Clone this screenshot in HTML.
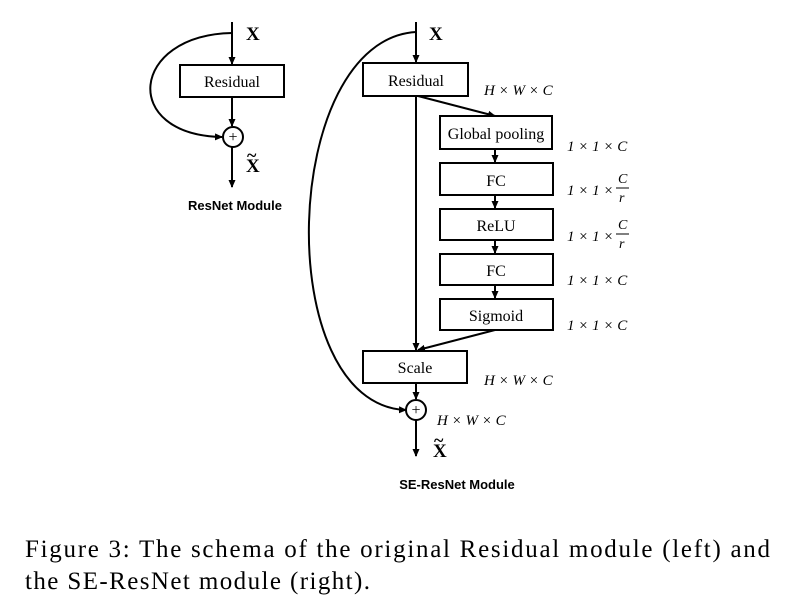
<!DOCTYPE html>
<html><head><style>
body{margin:0;width:790px;height:611px;background:#fff;overflow:hidden;font-family:"Liberation Serif",serif}
</style></head><body>
<svg width="790" height="611" xmlns="http://www.w3.org/2000/svg" style="position:absolute;left:0;top:0">
<defs><marker id="a" markerWidth="8" markerHeight="8" refX="7" refY="4" orient="auto" markerUnits="userSpaceOnUse"><path d="M0,0.5 L8,4 L0,7.5 z" fill="#000"/></marker></defs>
<g stroke="#000" stroke-width="2" fill="none">
<line x1="232" y1="22" x2="232" y2="64" marker-end="url(#a)"/>
<rect x="180" y="65" width="104" height="32" fill="#fff"/>
<line x1="232" y1="97" x2="232" y2="126" marker-end="url(#a)"/>
<circle cx="233" cy="137" r="10"/>
<path d="M232,33 C130,35 120,135 222,137" marker-end="url(#a)"/>
<line x1="232" y1="147" x2="232" y2="187" marker-end="url(#a)"/>
<line x1="416" y1="22" x2="416" y2="62" marker-end="url(#a)"/>
<rect x="363" y="63" width="105" height="33" fill="#fff"/>
<line x1="416" y1="96" x2="416" y2="350" marker-end="url(#a)"/>
<line x1="418" y1="96" x2="495" y2="116" marker-end="url(#a)"/>
<rect x="440" y="116" width="112" height="33" fill="#fff"/>
<line x1="495" y1="149" x2="495" y2="162" marker-end="url(#a)"/>
<rect x="440" y="163" width="113" height="32" fill="#fff"/>
<line x1="495" y1="195" x2="495" y2="208" marker-end="url(#a)"/>
<rect x="440" y="209" width="113" height="31" fill="#fff"/>
<line x1="495" y1="240" x2="495" y2="253" marker-end="url(#a)"/>
<rect x="440" y="254" width="113" height="31" fill="#fff"/>
<line x1="495" y1="285" x2="495" y2="298" marker-end="url(#a)"/>
<rect x="440" y="299" width="113" height="31" fill="#fff"/>
<line x1="495" y1="330" x2="418" y2="350" marker-end="url(#a)"/>
<rect x="363" y="351" width="104" height="32" fill="#fff"/>
<line x1="416" y1="383" x2="416" y2="399" marker-end="url(#a)"/>
<circle cx="416" cy="410" r="10"/>
<path d="M416,32 C280,40 270,405 406,410" marker-end="url(#a)"/>
<line x1="416" y1="420" x2="416" y2="456" marker-end="url(#a)"/>
</g>
<g font-family="Liberation Serif,serif" font-size="16" text-anchor="middle">
<text x="232" y="87">Residual</text>
<text x="416" y="86">Residual</text>
<text x="496" y="139">Global pooling</text>
<text x="496" y="186">FC</text>
<text x="496" y="231">ReLU</text>
<text x="496" y="276">FC</text>
<text x="496" y="321">Sigmoid</text>
<text x="415" y="373">Scale</text>
<text x="233" y="142" font-size="16">+</text>
<text x="416" y="415" font-size="16">+</text>
</g>
<g font-family="Liberation Serif,serif" font-size="19" font-weight="bold">
<text x="246" y="40">X</text><text x="429" y="40">X</text>
<text x="246" y="172">X</text><text x="247" y="161" font-size="18">~</text>
<text x="433" y="457">X</text><text x="434" y="446" font-size="18">~</text>
</g>
<g font-family="Liberation Sans,sans-serif" font-size="13" font-weight="bold" text-anchor="middle">
<text x="235" y="210">ResNet Module</text>
<text x="457" y="489">SE-ResNet Module</text>
</g>
<g font-family="Liberation Serif,serif" font-size="15" font-style="italic">
<text x="484" y="95">H × W × C</text>
<text x="484" y="385">H × W × C</text>
<text x="437" y="425">H × W × C</text>
<text x="567" y="151">1 × 1 × C</text>
<text x="567" y="195">1 × 1 ×</text>
<text x="618" y="183" font-size="14">C</text><line x1="616" y1="188" x2="629" y2="188" stroke="#000"/><text x="619" y="202" font-size="14">r</text>
<text x="567" y="241">1 × 1 ×</text>
<text x="618" y="229" font-size="14">C</text><line x1="616" y1="234" x2="629" y2="234" stroke="#000"/><text x="619" y="248" font-size="14">r</text>
<text x="567" y="285">1 × 1 × C</text>
<text x="567" y="330">1 × 1 × C</text>
</g>
<g font-family="Liberation Serif,serif" font-size="25">
<text x="25" y="557" textLength="745" lengthAdjust="spacing">Figure 3:  The schema of the original Residual module (left) and</text>
<text x="25" y="589" textLength="345" lengthAdjust="spacing">the SE-ResNet module (right).</text>
</g>
</svg>
</body></html>
